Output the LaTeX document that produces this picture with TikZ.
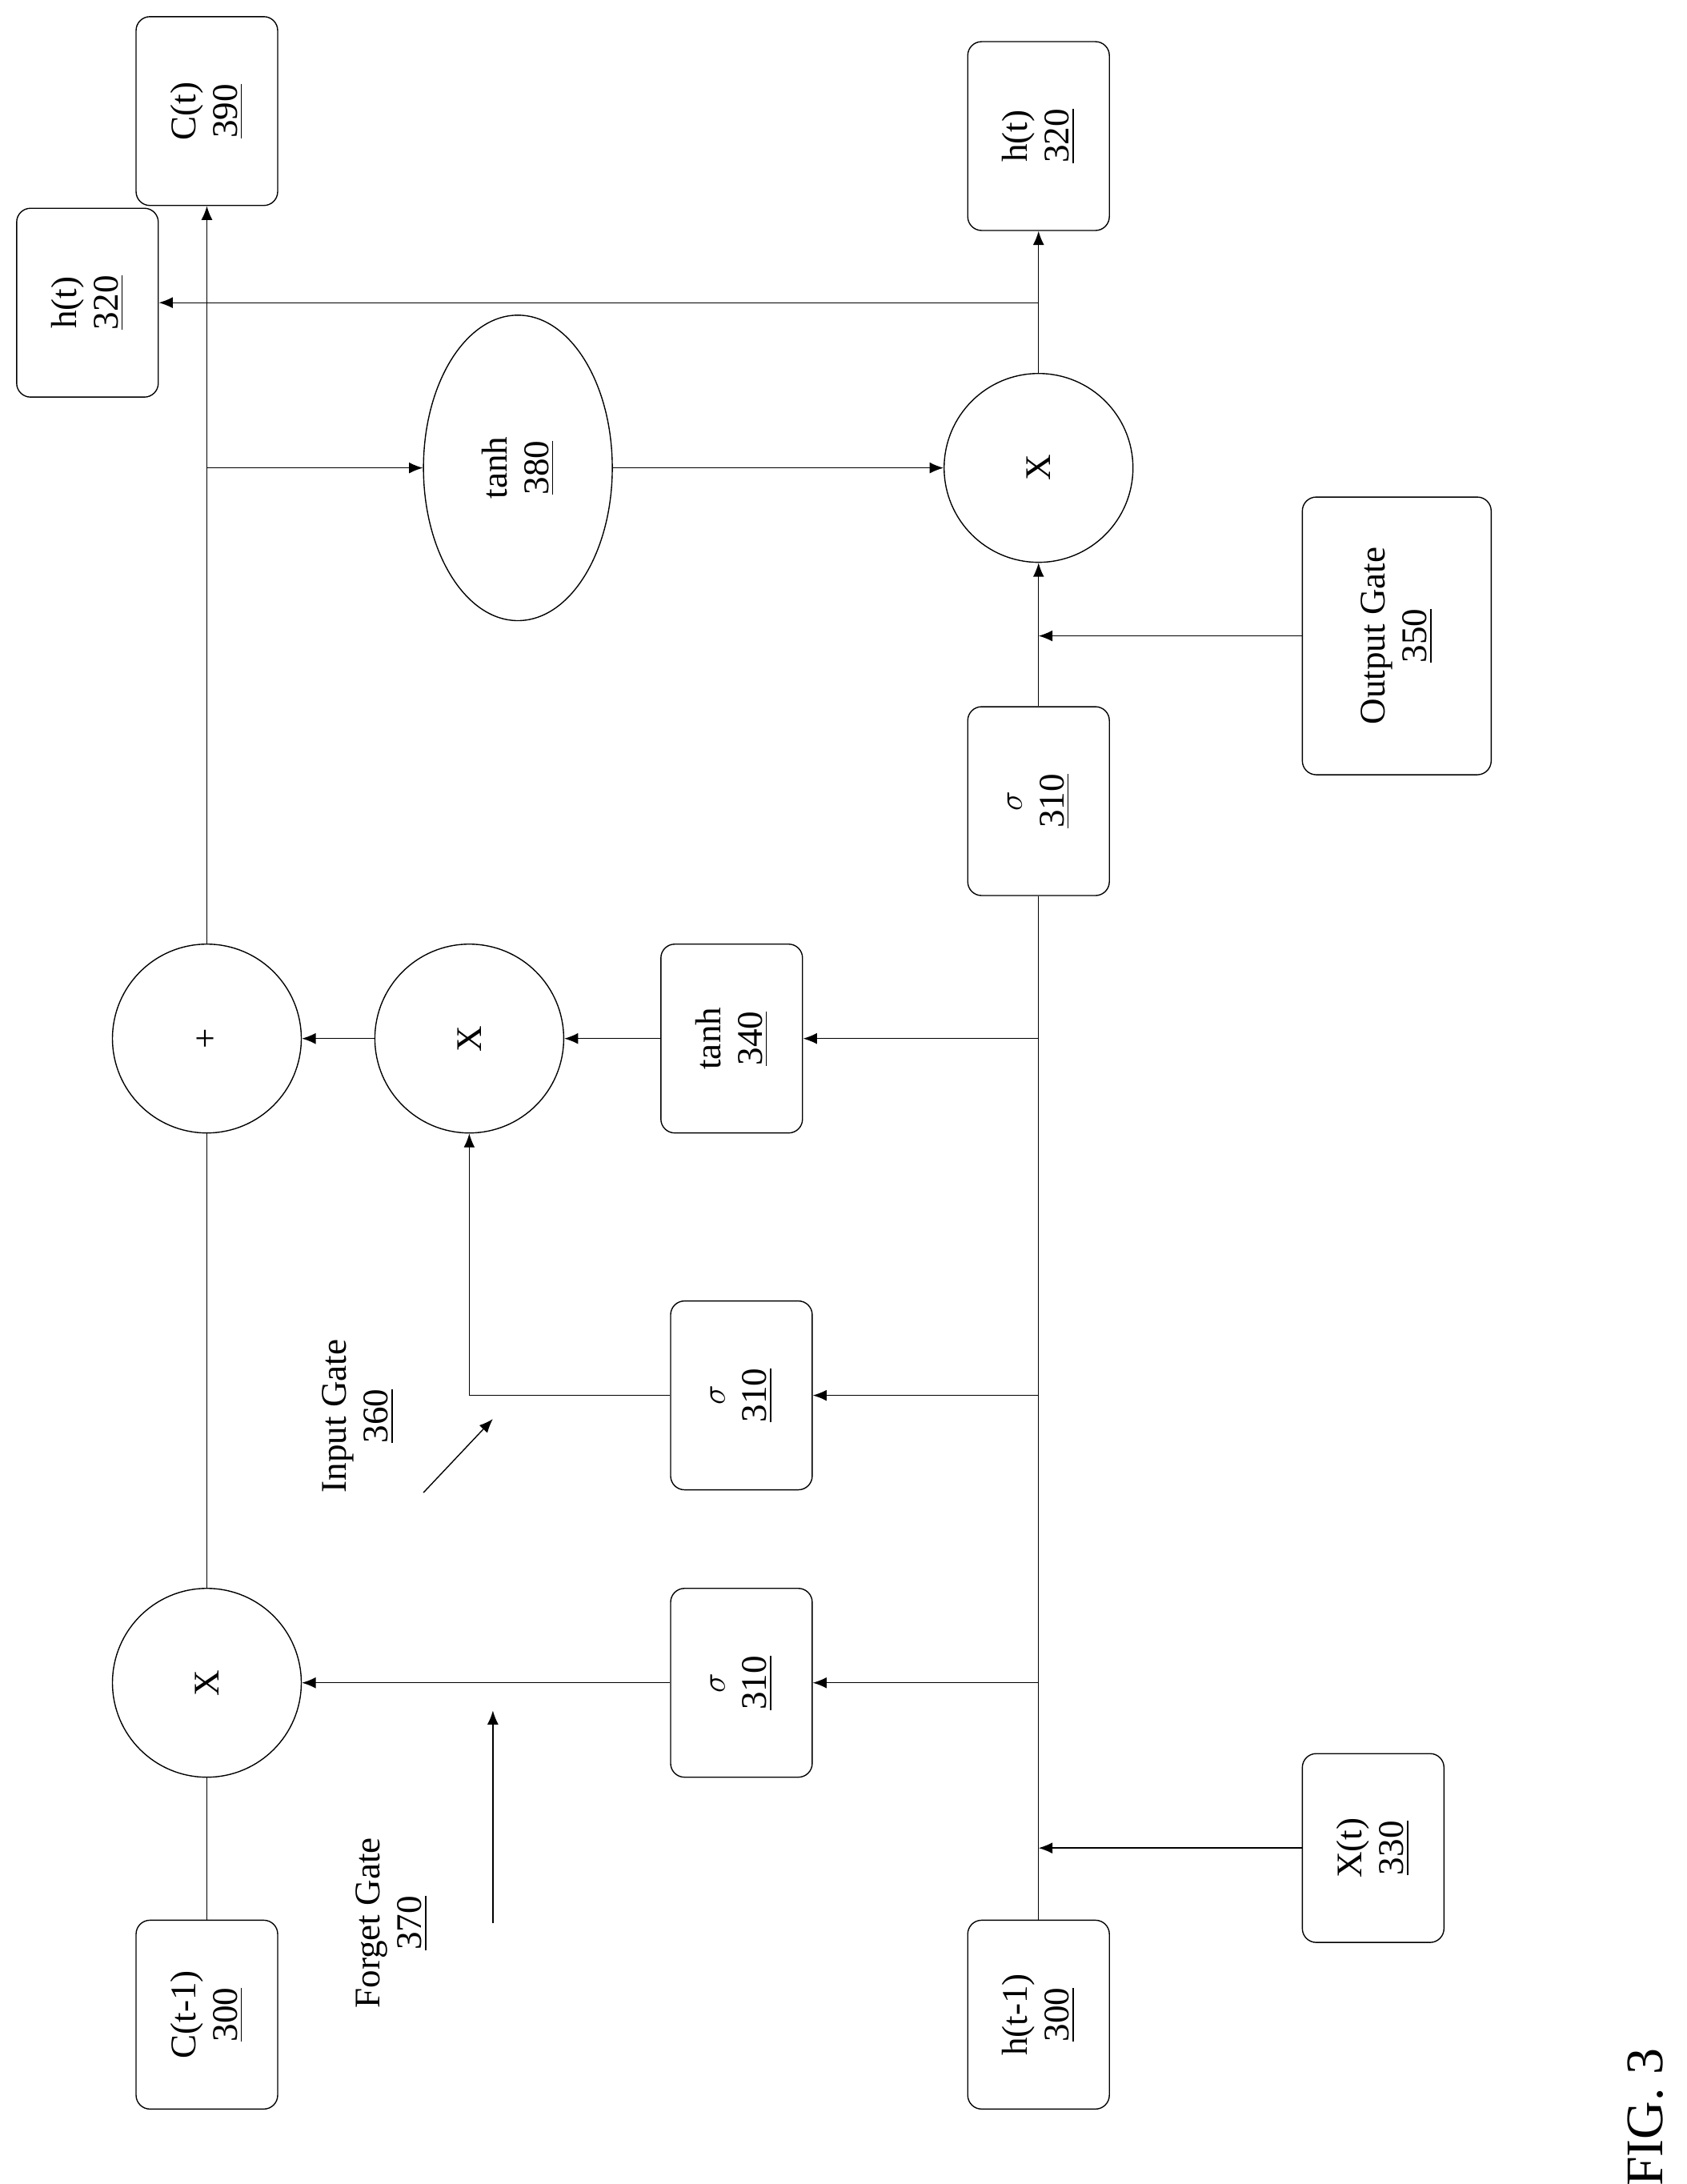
\documentclass[tikz,border=0pt]{standalone}
\usepackage{fontspec}
\setmainfont{Liberation Serif}
\usepackage{tikz}
\usetikzlibrary{shapes.geometric,arrows.meta,positioning}

\begin{document}
\begin{tikzpicture}[
    x=0.5pt, y=-0.5pt,
    font=\fontsize{13}{15}\selectfont,
    block/.style={rectangle, draw, rounded corners=5pt, rotate=90, minimum width=68pt, minimum height=51pt, align=center, inner sep=1pt},
    wide/.style={block, minimum width=100pt, minimum height=68pt},
    op/.style={circle, draw, rotate=90, minimum size=68pt, inner sep=0pt},
    link/.style={-{Latex[length=5pt,width=4pt]}},
    plain/.style={-}
]
    \useasboundingbox (0,0) rectangle (1215,1573);

    % top row
    \node[block] (ct) at (149,80) {C(t)\\\underline{390}};
    \node[block] (htl) at (63,218) {h(t)\\\underline{320}};
    \node[block] (htr) at (748,98) {h(t)\\\underline{320}};
    \node[ellipse, draw, rotate=90, minimum width=110pt, minimum height=68pt, align=center] (th2) at (373,337) {tanh\\\underline{380}};
    \node[op] (xo) at (748,337) {X};
    \node[wide] (og) at (1006,458) {Output Gate\\\underline{350}};
    \node[block] (so) at (748,577) {$\sigma$\\\underline{310}};

    % middle row
    \node[op] (pl) at (149,748) {+};
    \node[op] (xi) at (338,748) {X};
    \node[block] (th1) at (527,748) {tanh\\\underline{340}};
    \node[block] (si) at (534,1005) {$\sigma$\\\underline{310}};

    % bottom row
    \node[op] (xf) at (149,1212) {X};
    \node[block] (sf) at (534,1212) {$\sigma$\\\underline{310}};
    \node[block] (cp) at (149,1451) {C(t-1)\\\underline{300}};
    \node[block] (hp) at (748,1451) {h(t-1)\\\underline{300}};
    \node[block] (xt) at (989,1331) {X(t)\\\underline{330}};

    % gate labels
    \node[rotate=90, align=center] (ig) at (258,1020) {Input Gate\\\underline{360}};
    \node[rotate=90, align=center] (fg) at (282,1385) {Forget Gate\\\underline{370}};
    \coordinate (ig1) at (305,1075);
    \coordinate (ig2) at (355,1022);
    \coordinate (fg1) at (355,1385);
    \coordinate (fg2) at (355,1232);
    \draw[link] (ig1) -- (ig2);
    \draw[link] (fg1) -- (fg2);

    % junctions
    \coordinate (jc) at (149,337);
    \coordinate (jh) at (748,218);
    \coordinate (jo) at (748,458);
    \coordinate (jx) at (748,1331);
    \coordinate (jf) at (748,1212);
    \coordinate (ji) at (748,1005);
    \coordinate (jt) at (748,748);

    % cell state
    \draw[plain] (cp) -- (xf);
    \draw[plain] (xf) -- (pl);
    \draw[link] (pl) -- (ct);
    \draw[link] (jc) -- (th2);
    \draw[link] (th2) -- (xo);
    \draw[link] (xo) -- (htr);
    \draw[link] (jh) -- (htl);
    \draw[link] (so) -- (xo);
    \draw[link] (og) -- (jo);

    % hidden state
    \draw[plain] (hp) -- (so);
    \draw[link] (xt) -- (jx);
    \draw[link] (jf) -- (sf);
    \draw[link] (sf) -- (xf);
    \draw[link] (ji) -- (si);
    \draw[link] (si) -| (xi);
    \draw[link] (jt) -- (th1);
    \draw[link] (th1) -- (xi);
    \draw[link] (xi) -- (pl);

    \node[rotate=90, font=\fontsize{19}{21}\selectfont] (fig) at (1185,1525) {FIG. 3};
\end{tikzpicture}
\end{document}
